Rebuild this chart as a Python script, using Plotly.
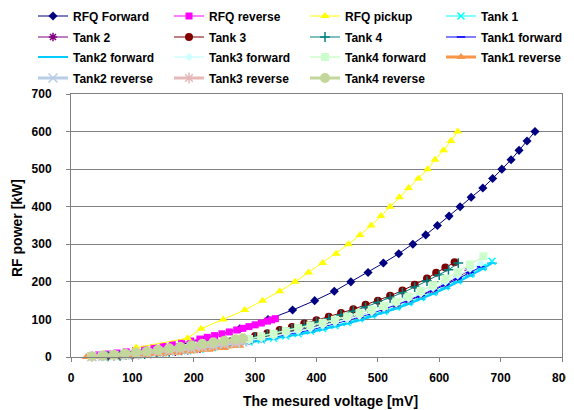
import plotly.graph_objects as go

# ---- data ----
P_rfq = [25, 50, 75, 100, 125, 150, 175, 200, 225, 250, 275, 300, 325, 350, 375, 400,
         425, 450, 475, 500, 525, 550, 575, 600]
v_rfq_forward = [160, 220, 275, 321, 361, 397, 429, 456, 484, 509, 534, 557, 578, 597, 616, 634,
                 652, 671, 687, 702, 717, 730, 743, 756]
v_rfq_pickup = [106, 190, 212, 248, 283, 312, 340, 365, 387, 410, 432, 452, 471, 489, 505, 520,
                535, 550, 566, 581, 593, 607, 619, 630]

v_rfq_reverse = [45, 60, 75, 90, 105, 120, 135, 150, 165, 180, 195, 210, 222, 234, 246, 258,
                 270, 280, 290, 300, 310, 320, 327, 333]
P_rfq_reverse = [5.5, 7.9, 10.6, 13.6, 16.9, 20.4, 24.3, 28.4, 32.8, 37.6, 42.5, 47.8, 52.3, 56.9,
                 61.7, 66.7, 71.9, 76.3, 80.9, 85.6, 90.4, 95.4, 98.9, 102.0]

v_tank_a = [50, 70, 90, 110, 130, 150, 170, 190, 210, 230, 250, 270, 290, 310, 330, 350, 370,
            390, 410, 430, 450, 470, 490, 510, 530, 550, 570, 590, 610, 630, 650, 670, 686]
P_tank1 = [1, 2, 4, 6, 8, 11, 14, 17, 21, 25, 30, 35, 40, 45, 50, 56, 62, 69, 76, 84,
           92, 102, 112, 122, 133, 145, 158, 172, 187, 203, 220, 238, 255]
P_tank2_forward = [1, 2, 3, 5, 7, 10, 13, 16, 20, 24, 28, 33, 38, 43, 48, 54, 60, 66, 73, 81,
                   89, 98, 108, 118, 129, 141, 154, 168, 183, 199, 216, 234, 250]

v_tank_b = [50, 70, 90, 110, 130, 150, 170, 190, 210, 230, 250, 270, 290, 310, 330, 350, 370,
            390, 410, 430, 450, 470, 490, 510, 530, 550, 570, 590, 610, 630, 650, 668]
P_tank1_forward = [1, 2, 4, 6, 9, 12, 15, 18, 22, 26, 31, 36, 41, 47, 53, 59, 65, 72, 80, 88,
                   97, 106, 116, 127, 138, 150, 163, 177, 192, 208, 225, 240]
P_tank3_forward = [1, 2, 4, 6, 9, 12, 15, 19, 23, 27, 32, 37, 43, 49, 55, 61, 68, 75, 83, 91,
                   100, 109, 119, 130, 142, 155, 168, 183, 199, 216, 234, 249]

v_tank2 = [50, 70, 90, 110, 130, 150, 170, 190, 210, 230, 250, 270, 290, 310, 330, 350, 370,
           390, 410, 430, 450, 470, 490, 510, 530, 550, 570, 590, 610, 630, 648]
P_tank2 = [1, 2, 3, 5, 8, 11, 14, 18, 22, 27, 32, 38, 44, 50, 57, 64, 71, 78, 86, 94,
           102, 110, 119, 129, 140, 152, 165, 179, 195, 212, 230]

v_tank3 = [60, 80, 100, 120, 140, 160, 180, 200, 220, 240, 260, 280, 300, 320, 340, 360, 380,
           400, 420, 440, 460, 480, 500, 520, 540, 560, 580, 595, 610, 625]
P_tank3 = [2, 4, 6, 9, 12, 16, 20, 25, 30, 35, 41, 48, 56, 63, 72, 80, 89, 98, 107, 117,
           127, 139, 150, 163, 177, 192, 209, 224, 238, 252]

v_tank4 = [60, 80, 100, 120, 140, 160, 180, 200, 220, 240, 260, 280, 300, 320, 340, 360, 380,
           400, 420, 440, 460, 480, 500, 520, 540, 560, 580, 600, 615, 631]
P_tank4 = [2, 3, 5, 8, 11, 14, 18, 23, 28, 33, 39, 45, 52, 59, 67, 75, 84, 93, 102, 112,
           122, 133, 145, 157, 171, 186, 202, 218, 232, 250]

v_tank4_forward = [50, 70, 90, 110, 130, 150, 170, 190, 210, 230, 250, 270, 290, 310, 330, 350,
                   370, 390, 410, 430, 450, 470, 490, 510, 530, 550, 570, 590, 610, 630, 650, 672]
P_tank4_forward = [1, 2, 4, 6, 9, 12, 16, 20, 25, 30, 36, 42, 48, 55, 62, 69, 77, 84, 91, 99,
                   108, 117, 126, 136, 148, 161, 176, 191, 208, 226, 246, 268]

v_tank1_reverse = [25, 50, 75, 100, 125, 150, 175, 200, 225, 250, 275]
P_tank1_reverse = [0, 1, 2, 4, 6, 8, 11, 15, 19, 24, 30]

v_rev = [34, 52, 70, 88, 106, 124, 142, 160, 178, 196, 214, 232, 250, 268, 280]
P_tank2_reverse = [1, 2, 4, 6, 8, 11, 14, 17, 20, 23, 27, 30, 34, 37, 40]
P_tank3_reverse = [1, 3, 5, 7, 10, 13, 16, 20, 23, 27, 30, 34, 38, 41, 44]
P_tank4_reverse = [2, 4, 6, 9, 12, 15, 19, 23, 27, 31, 35, 39, 43, 47, 50]

x_ticks = [0, 100, 200, 300, 400, 500, 600, 700, 800]
y_ticks = [0, 100, 200, 300, 400, 500, 600, 700]

# ---- series definitions (name, x, y, color, symbol, size, line width) ----
series = [
    ("RFQ Forward", v_rfq_forward, P_rfq, "#000080", "diamond", 7, 1),
    ("RFQ reverse", v_rfq_reverse, P_rfq_reverse, "#FF00FF", "square", 7, 1),
    ("RFQ pickup", v_rfq_pickup, P_rfq, "#FFFF00", "triangle-up", 8, 1),
    ("Tank 1", v_tank_a, P_tank1, "#00FFFF", "x-thin-open", 7, 1),
    ("Tank 2", v_tank2, P_tank2, "#800080", "asterisk-open", 7, 1),
    ("Tank 3", v_tank3, P_tank3, "#800000", "circle", 8, 1),
    ("Tank 4", v_tank4, P_tank4, "#008080", "cross-thin-open", 7, 1),
    ("Tank1 forward", v_tank_b, P_tank1_forward, "#0000FF", "line-ew-open", 6, 1),
    ("Tank2 forward", v_tank_a, P_tank2_forward, "#00CCFF", "line-ew-open", 7, 2),
    ("Tank3 forward", v_tank_b, P_tank3_forward, "#CCFFFF", "diamond", 6, 1.5),
    ("Tank4 forward", v_tank4_forward, P_tank4_forward, "#CCFFCC", "square", 8, 1.5),
    ("Tank1 reverse", v_tank1_reverse, P_tank1_reverse, "#F79646", "triangle-up", 8, 3),
    ("Tank2 reverse", v_rev, P_tank2_reverse, "#B9CDE5", "x-thin-open", 9, 3),
    ("Tank3 reverse", v_rev, P_tank3_reverse, "#E6B9B8", "asterisk-open", 9, 3),
    ("Tank4 reverse", v_rev, P_tank4_reverse, "#C3D69B", "circle", 10, 3),
]

FONT = "Liberation Sans, Arial, sans-serif"
legend_names = ["legend", "legend2", "legend3", "legend4"]

fig = go.Figure()
for i, (name, xs, ys, color, sym, size, lw) in enumerate(series):
    open_sym = sym.endswith("-open")
    fig.add_trace(go.Scatter(
        x=xs, y=ys, name=name, mode="lines+markers",
        line=dict(color=color, width=lw),
        marker=dict(symbol=sym, size=size, color=color,
                    line=dict(color=color, width=1.5 if open_sym else 0)),
        cliponaxis=False,
        legend=legend_names[i // 4],
    ))

# The page body adds an 8px margin, so the figure is 8px smaller and all
# target pixel positions (measured in the window) are shifted by 8px.
OFF = 8
FIG_W, FIG_H = 574 - OFF, 410 - OFF
PL, PR, PT, PB = 71, 562, 94, 357          # plot area in window pixels
W, H = PR - PL, PB - PT

def px_x(p):
    return (p - PL) / W

def px_y(p):
    return (PB - p) / H

legend_common = dict(orientation="h", entrywidth=91, entrywidthmode="pixels",
                     xanchor="left", yanchor="middle", bgcolor="rgba(0,0,0,0)",
                     font=dict(family=FONT, size=12, color="#000000", weight="bold"),
                     traceorder="normal", itemwidth=30)
row_y = [16, 37, 57, 78]
layout_legends = {}
for k, ln in enumerate(legend_names):
    layout_legends[ln] = dict(legend_common, x=px_x(33), y=px_y(row_y[k]))

fig.update_layout(
    width=FIG_W, height=FIG_H,
    margin=dict(l=PL - OFF, r=574 - PR, t=PT - OFF, b=410 - PB, pad=0, autoexpand=False),
    paper_bgcolor="white", plot_bgcolor="white",
    font=dict(family=FONT, size=12, color="#000000", weight="bold"),
    showlegend=True,
    **layout_legends,
    xaxis=dict(range=[0, 800], tickvals=x_ticks, ticks="outside", ticklen=4,
               tickcolor="#808080", showline=True, linecolor="#808080", linewidth=1,
               mirror=True, showgrid=False, zeroline=False, ticklabelstandoff=6,
               automargin=False,
               tickfont=dict(family=FONT, size=12, color="#000000", weight="bold")),
    yaxis=dict(range=[0, 700], tickvals=y_ticks, ticks="outside", ticklen=4,
               tickcolor="#808080", showline=True, linecolor="#808080", linewidth=1,
               mirror=True, showgrid=True, gridcolor="#808080", gridwidth=1,
               zeroline=False, ticklabelstandoff=12, automargin=False,
               tickfont=dict(family=FONT, size=12, color="#000000", weight="bold")),
    annotations=[
        dict(text="The mesured voltage [mV]", xref="paper", yref="paper",
             x=px_x(330), y=px_y(401), xanchor="center", yanchor="middle",
             showarrow=False, font=dict(family=FONT, size=14, color="#000000", weight="bold")),
        dict(text="RF power [kW]", xref="paper", yref="paper", textangle=-90,
             x=px_x(17), y=px_y(228), xanchor="center", yanchor="middle",
             showarrow=False, font=dict(family=FONT, size=14, color="#000000", weight="bold")),
    ],
)

fig.write_html("out.html")
